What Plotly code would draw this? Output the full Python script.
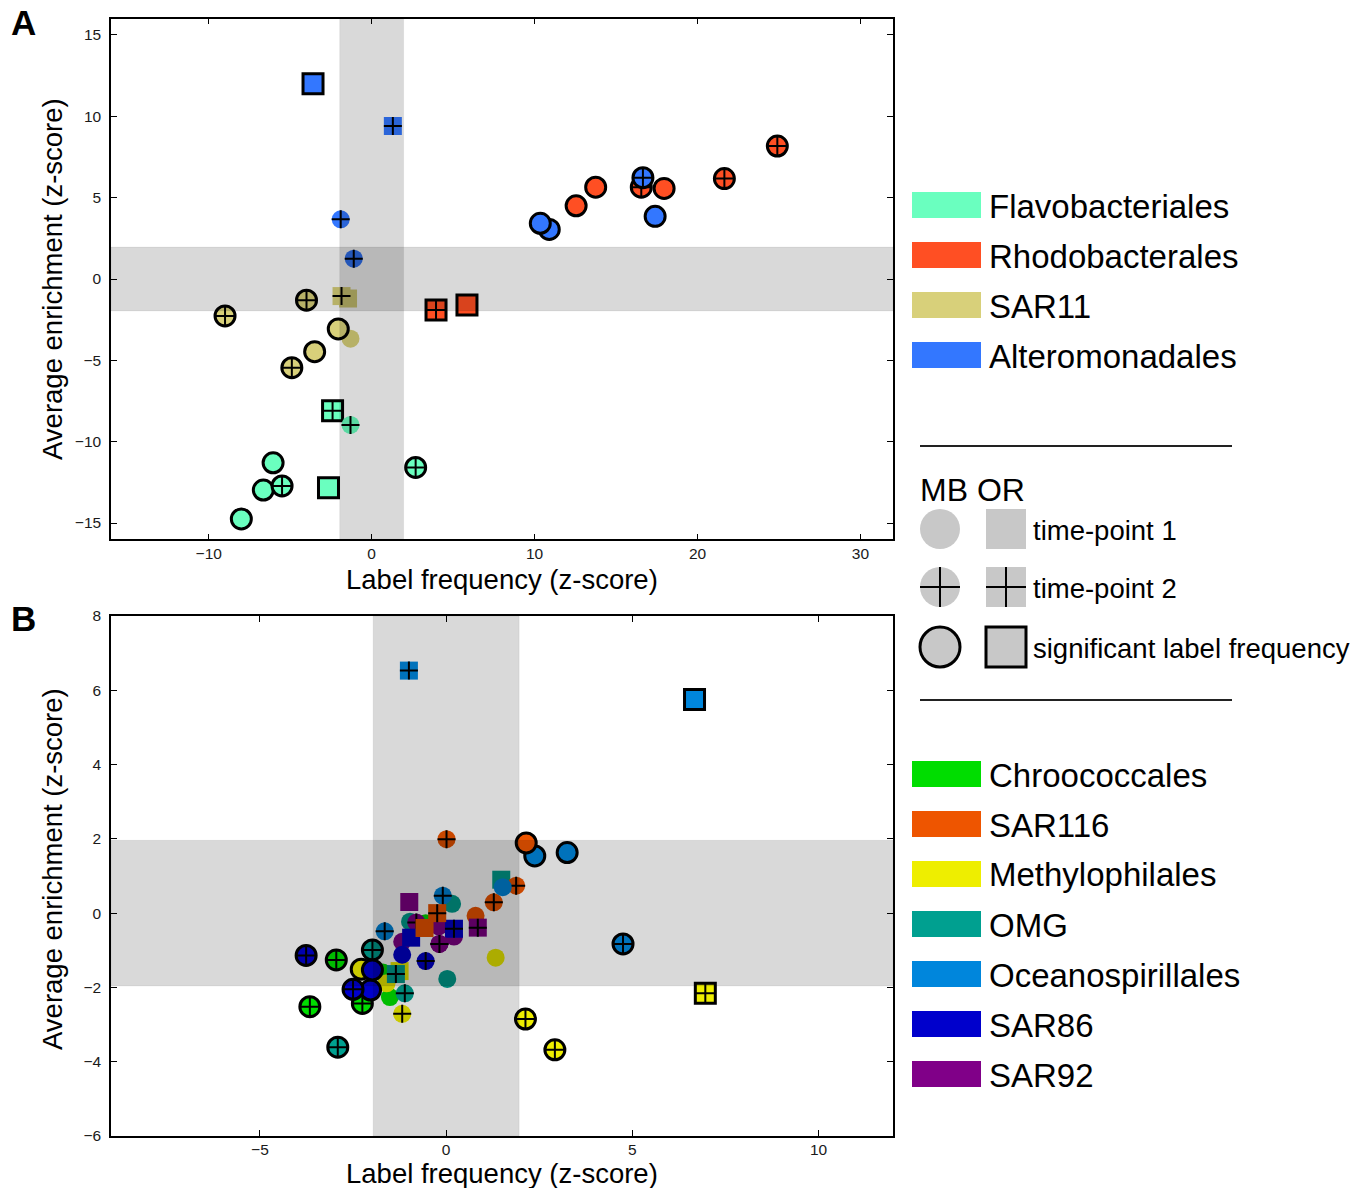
import plotly.graph_objects as go

W, H = 1365, 1188

# ---------------- data: panel A ----------------
a_categories = ["Flavobacteriales", "Rhodobacterales", "SAR11", "Alteromonadales"]
a_colors = ["#6affbf", "#ff4f23", "#d8d07a", "#3377ff"]

a_order = ["Alteromonadales", "Alteromonadales", "Alteromonadales", "Alteromonadales",
           "SAR11", "SAR11", "SAR11", "Rhodobacterales", "Rhodobacterales",
           "SAR11", "SAR11", "SAR11", "SAR11", "SAR11",
           "Flavobacteriales", "Flavobacteriales", "Flavobacteriales", "Flavobacteriales",
           "Flavobacteriales", "Flavobacteriales", "Flavobacteriales", "Flavobacteriales",
           "Alteromonadales", "Alteromonadales", "Rhodobacterales", "Rhodobacterales",
           "Rhodobacterales", "Alteromonadales", "Rhodobacterales", "Alteromonadales",
           "Rhodobacterales", "Rhodobacterales"]
a_x = [-3.6, 1.3, -1.9, -1.1,
       -4.0, -1.45, -1.85, 3.95, 5.85,
       -9.0, -1.3, -2.05, -3.5, -4.9,
       -2.4, -1.3, -6.05, 2.7, -6.65, -5.5, -2.65, -8.0,
       10.9, 10.35, 12.55, 13.75, 16.55, 16.65, 17.95, 17.4, 21.65, 24.9]
a_y = [12.0, 9.4, 3.67, 1.25,
       -1.3, -1.2, -1.05, -1.9, -1.6,
       -2.27, -3.67, -3.07, -4.47, -5.45,
       -8.1, -8.97, -11.3, -11.58, -12.97, -12.72, -12.83, -14.75,
       3.05, 3.42, 4.5, 5.64, 5.64, 6.23, 5.57, 3.85, 6.17, 8.17]
a_kind = ["OR", "OR", "MB", "MB",
          "MB", "OR", "OR", "OR", "OR",
          "MB", "MB", "MB", "MB", "MB",
          "OR", "MB", "MB", "MB", "MB", "MB", "OR", "MB",
          "MB", "MB", "MB", "MB", "MB", "MB", "MB", "MB", "MB", "MB"]
a_time = [1, 2, 2, 2,
          2, 1, 2, 2, 1,
          2, 1, 1, 1, 2,
          2, 2, 1, 2, 1, 2, 1, 1,
          1, 1, 1, 1, 2, 2, 1, 1, 2, 2]
a_sig = [1, 0, 0, 0,
         1, 0, 0, 1, 1,
         1, 0, 1, 1, 1,
         1, 0, 1, 1, 1, 1, 1, 1,
         1, 1, 1, 1, 1, 1, 1, 1, 1, 1]

# ---------------- data: panel B ----------------
b_categories = ["Chroococcales", "SAR116", "Methylophilales", "OMG",
                "Oceanospirillales", "SAR86", "SAR92"]
b_colors = ["#00dd00", "#ee5500", "#eeee00", "#00a090", "#0086dc", "#0000cc", "#800088"]

b_order = ["Chroococcales", "Chroococcales", "Chroococcales", "Methylophilales",
           "Methylophilales", "OMG", "SAR86", "SAR86", "SAR86",
           "Methylophilales", "OMG", "OMG", "Methylophilales",
           "Chroococcales", "Chroococcales", "SAR86", "OMG",
           "SAR92", "OMG", "Chroococcales", "SAR92", "SAR92", "SAR92", "SAR92",
           "SAR86", "SAR86", "SAR86", "SAR86",
           "SAR92", "SAR116", "SAR116", "SAR92", "Oceanospirillales", "OMG",
           "Oceanospirillales", "OMG", "SAR116", "SAR116", "SAR116", "SAR116", "SAR92",
           "Methylophilales", "OMG",
           "Oceanospirillales", "Oceanospirillales", "SAR116", "Oceanospirillales",
           "Oceanospirillales", "Oceanospirillales", "Methylophilales",
           "Methylophilales", "Methylophilales", "Oceanospirillales"]
b_x = [-2.25, -1.51, -1.7, -1.6,
       -2.28, -1.98, -2.03, -2.5, -1.98,
       -1.25, -1.35, -1.11, -1.18,
       -2.95, -3.66, -3.76, 0.03,
       -1.18, -0.97, -0.55, -0.2, 0.21, -0.8, -0.18,
       -1.18, -0.55, -0.94, 0.21,
       -0.99, 0.79, -0.58, 0.85, -1.65, 0.16,
       -0.09, 1.48, -0.24, 1.28, 1.88, 0.01, -0.18,
       1.33, -2.91,
       1.52, 2.38, 2.15, 3.25,
       4.75, -1.0, 6.96,
       2.13, 2.92, 6.67]
b_y = [-2.43, -2.26, -1.6, -1.89,
       -1.51, -0.99, -2.07, -2.05, -1.53,
       -1.56, -1.64, -2.16, -2.71,
       -1.26, -2.52, -1.14, -1.77,
       -0.77, -0.23, -0.27, -0.36, -0.63, -0.25, -0.83,
       -1.12, -1.29, -0.66, -0.42,
       0.30, -0.07, -0.40, -0.39, -0.49, 0.25,
       0.47, 0.90, 0.0, 0.29, 0.74, 1.99, -0.83,
       -1.20, -3.61,
       0.70, 1.54, 1.89, 1.63,
       -0.83, 6.53, -2.16,
       -2.85, -3.68, 5.75]
b_kind = ["MB", "MB", "MB", "MB",
          "MB", "MB", "MB", "MB", "MB",
          "OR", "OR", "MB", "MB",
          "MB", "MB", "MB", "MB",
          "MB", "MB", "MB", "MB", "MB", "MB", "MB",
          "MB", "MB", "OR", "OR",
          "OR", "MB", "OR", "OR", "MB", "MB",
          "MB", "OR", "OR", "MB", "MB", "MB", "MB",
          "MB", "MB",
          "MB", "MB", "MB", "MB",
          "MB", "OR", "OR",
          "MB", "MB", "OR"]
b_time = [2, 1, 1, 1,
          1, 2, 1, 2, 1,
          1, 2, 2, 2,
          2, 2, 2, 1,
          1, 1, 1, 1, 1, 2, 2,
          1, 2, 1, 2,
          1, 1, 1, 2, 2, 1,
          2, 1, 2, 2, 2, 2, 2,
          1, 2,
          1, 1, 1, 1,
          2, 2, 2,
          2, 2, 1]
b_sig = [1, 0, 0, 0,
         1, 1, 1, 1, 1,
         0, 0, 0, 0,
         1, 1, 1, 0,
         0, 0, 0, 0, 0, 0, 0,
         0, 0, 0, 0,
         0, 0, 0, 0, 0, 0,
         0, 0, 0, 0, 0, 0, 0,
         0, 1,
         0, 1, 1, 1,
         1, 0, 1,
         1, 1, 1]

FONT = "Liberation Sans, Arial, Helvetica, sans-serif"
SIG_SIZE, NON_SIZE = 20, 18


def px(xp):
    return xp / W


def py(yp):
    return 1 - yp / H


fig = go.Figure()


def add_points(order, xs, ys, kinds, times, sigs, cats, cols, xa, ya):
    cmap = dict(zip(cats, cols))
    for c, x, y, k, t, s in zip(order, xs, ys, kinds, times, sigs):
        size = SIG_SIZE if s else NON_SIZE
        fig.add_trace(go.Scatter(
            x=[x], y=[y], mode="markers", xaxis=xa, yaxis=ya,
            showlegend=False, hoverinfo="skip",
            marker=dict(symbol="circle" if k == "MB" else "square", size=size,
                        color=cmap[c],
                        line=dict(width=3 if s else 0, color="black"))))
        if t == 2:
            fig.add_trace(go.Scatter(
                x=[x], y=[y], mode="markers", xaxis=xa, yaxis=ya,
                showlegend=False, hoverinfo="skip",
                marker=dict(symbol="cross-thin", size=size / 1.4, color="black",
                            line=dict(width=2, color="black"))))


add_points(a_order, a_x, a_y, a_kind, a_time, a_sig, a_categories, a_colors, "x", "y")
add_points(b_order, b_x, b_y, b_kind, b_time, b_sig, b_categories, b_colors, "x2", "y2")

axis_common = dict(showline=True, linecolor="black", linewidth=1.5, mirror="ticks",
                   ticks="inside", ticklen=6, tickwidth=1, tickcolor="black",
                   showgrid=False, zeroline=False, automargin=False,
                   tickfont=dict(family=FONT, size=15.5, color="#1a1a1a"))

fig.update_layout(
    width=W, height=H, margin=dict(l=0, r=0, t=0, b=0, pad=0),
    paper_bgcolor="white", plot_bgcolor="white", template="none",
    xaxis=dict(domain=[px(111), px(893)], range=[-16, 32], dtick=10, anchor="y",
               ticklabelstandoff=-1, **axis_common),
    yaxis=dict(domain=[py(539.3), py(18.7)], range=[-16, 16], dtick=5, anchor="x",
               ticklabelstandoff=5, **axis_common),
    xaxis2=dict(domain=[px(111), px(893)], range=[-9, 12], dtick=5, anchor="y2",
                ticklabelstandoff=-1, **axis_common),
    yaxis2=dict(domain=[py(1136), py(616)], range=[-6, 8], dtick=2, anchor="x2",
                ticklabelstandoff=5, **axis_common),
)

shapes = []
band = dict(fillcolor="rgba(0,0,0,0.15)", line=dict(width=1, color="rgba(0,0,0,0.06)"),
            layer="above")
for xa, ya in [("x", "y"), ("x2", "y2")]:
    shapes.append(dict(type="rect", xref=xa, yref=ya + " domain", x0=-1.96, x1=1.96,
                       y0=0, y1=1, **band))
    shapes.append(dict(type="rect", xref=xa + " domain", yref=ya, x0=0, x1=1,
                       y0=-1.96, y1=1.96, **band))

annotations = []


def text(xp, yp, s, size, anchor="left", **kw):
    annotations.append(dict(x=px(xp), y=py(yp), xref="paper", yref="paper", text=s,
                            showarrow=False, xanchor=anchor, yanchor="middle",
                            font=dict(family=FONT, size=size, color="black"), **kw))


# panel letters
text(9, 23, "<b>A</b>", 35)
text(9, 618, "<b>B</b>", 35)

# axis titles
for yc in (579, 1173):
    text(502, yc, "Label frequency (z-score)", 27.5, anchor="center")
for yc in (279, 869):
    text(52, yc, "Average enrichment (z-score)", 27.5, anchor="center", textangle=-90)


# colour legends
def patch_legend(cats, cols, y_start):
    for i, (c, col) in enumerate(zip(cats, cols)):
        yc = y_start + 50 * i
        shapes.append(dict(type="rect", xref="paper", yref="paper",
                           x0=px(912), x1=px(981), y0=py(yc + 13), y1=py(yc - 13),
                           fillcolor=col, line=dict(width=0)))
        text(987, yc + 1, c, 33)


patch_legend(a_categories, a_colors, 205)
patch_legend(b_categories, b_colors, 774)

# separators
for yl in (446, 700):
    shapes.append(dict(type="line", xref="paper", yref="paper", x0=px(920), x1=px(1232),
                       y0=py(yl), y1=py(yl), line=dict(color="#222222", width=2)))

# marker legend
text(918, 490, "MB OR", 32)
GRAY = "#c8c8c8"
rows = [(529, "time-point 1", False, False),
        (587, "time-point 2", True, False),
        (647, "significant label frequency", False, True)]
for yc, label, cross, sig in rows:
    r = 20
    lw = 3 if sig else 0
    shapes.append(dict(type="circle", xref="paper", yref="paper",
                       x0=px(940 - r), x1=px(940 + r), y0=py(yc + r), y1=py(yc - r),
                       fillcolor=GRAY, line=dict(width=lw, color="black")))
    shapes.append(dict(type="rect", xref="paper", yref="paper",
                       x0=px(1006 - r), x1=px(1006 + r), y0=py(yc + r), y1=py(yc - r),
                       fillcolor=GRAY, line=dict(width=lw, color="black")))
    if cross:
        for cx in (940, 1006):
            shapes.append(dict(type="line", xref="paper", yref="paper",
                               x0=px(cx - r), x1=px(cx + r), y0=py(yc), y1=py(yc),
                               line=dict(color="black", width=2)))
            shapes.append(dict(type="line", xref="paper", yref="paper",
                               x0=px(cx), x1=px(cx), y0=py(yc - r), y1=py(yc + r),
                               line=dict(color="black", width=2)))
    text(1031, yc + 1, label, 27.5)

fig.update_layout(shapes=shapes, annotations=annotations)
fig.write_html("out.html")
